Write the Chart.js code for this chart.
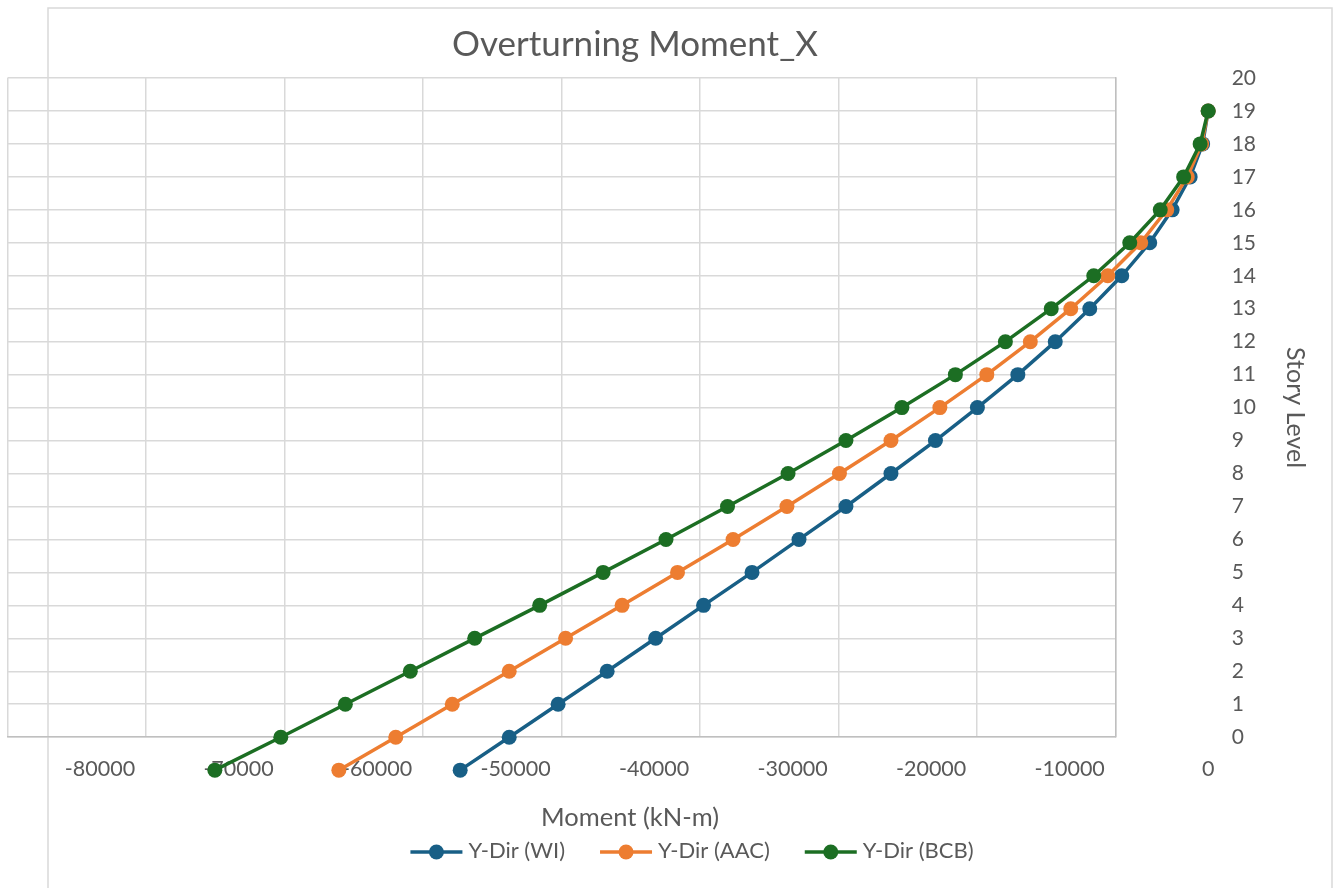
<!DOCTYPE html>
<html>
<head>
<meta charset="utf-8">
<title>Overturning Moment_X</title>
<script src="https://cdn.jsdelivr.net/npm/chart.js"></script>
<style>
  html, body { margin: 0; padding: 0; background: #ffffff; }
  #wrap { width: 1338px; height: 888px; }
</style>
</head>
<body>
<div id="wrap"><canvas id="myChart" width="1338" height="888"></canvas></div>
<script>
// story levels as they sit against the right-hand axis
const storyLevels = [-1, 0, 1, 2, 3, 4, 5, 6, 7, 8, 9, 10, 11, 12, 13, 14, 15, 16, 17, 18, 19];

// overturning moment (kN-m), bottom to top
const momentWI = [-54000, -50460, -46930, -43390, -39890, -36430, -32930, -29540, -26150, -22900,
  -19690, -16660, -13740, -11040, -8550, -6240, -4220, -2600, -1300, -400, 0];
const momentAAC = [-62760, -58650, -54570, -50460, -46390, -42310, -38310, -34300, -30410, -26620,
  -22900, -19370, -15980, -12840, -9920, -7250, -4870, -2990, -1510, -470, 0];
const momentBCB = [-71710, -66950, -62290, -57600, -52950, -48260, -43680, -39140, -34700, -30330,
  -26150, -22110, -18250, -14640, -11330, -8260, -5660, -3460, -1770, -580, 0];

const seriesNames = ['Y-Dir (WI)', 'Y-Dir (AAC)', 'Y-Dir (BCB)'];
const xTickValues = [-80000, -70000, -60000, -50000, -40000, -30000, -20000, -10000, 0];
const yTickValues = [0, 1, 2, 3, 4, 5, 6, 7, 8, 9, 10, 11, 12, 13, 14, 15, 16, 17, 18, 19, 20];

const textGray = '#595959';

function toPoints(values) {
	return values.map((v, i) => ({ x: v, y: storyLevels[i] }));
}

function series(name, values, color, order) {
	return {
		label: name,
		data: toPoints(values),
		showLine: true,
		borderColor: color,
		backgroundColor: color,
		borderWidth: 3.5,
		pointRadius: 7.5,
		pointHoverRadius: 7.5,
		pointBorderWidth: 0,
		tension: 0,
		clip: false,
		order: order,
	};
}

// labels hang outside the plot box, so no extra layout padding for them
function noOverhang(scale) {
	scale.paddingLeft = 0;
	scale.paddingRight = 0;
	scale.paddingTop = 0;
	scale.paddingBottom = 0;
}

// white page plus the outer chart frame
const frame = {
	id: 'frame',
	beforeDraw(chart) {
		const { ctx, width, height } = chart;
		ctx.save();
		ctx.fillStyle = '#ffffff';
		ctx.fillRect(0, 0, width, height);
		ctx.strokeStyle = '#d9d9d9';
		ctx.lineWidth = 1.5;
		ctx.strokeRect(48, 8, 1284, height + 10);
		ctx.restore();
	},
};

// the series run past the plot box (level -1 and the 0 end), let the points show there too
const overflowMarks = {
	id: 'overflowMarks',
	beforeDatasetsDraw(chart) {
		chart._plotBox = chart.chartArea;
		chart.chartArea = { left: 0, top: 0, right: chart.width, bottom: chart.height, width: chart.width, height: chart.height };
	},
	afterDatasetsDraw(chart) {
		chart.chartArea = chart._plotBox;
	},
};

// title, x axis title and legend, placed like the excel sheet
const sheetText = {
	id: 'sheetText',
	afterDraw(chart) {
		const ctx = chart.ctx;
		ctx.save();
		ctx.fillStyle = textGray;
		ctx.textAlign = 'center';
		ctx.textBaseline = 'alphabetic';
		ctx.font = '35px Lato';
		ctx.fillText('Overturning Moment_X', 635, 56);
		ctx.font = '25.5px Lato';
		ctx.fillText('Moment (kN-m)', 630, 826);

		ctx.font = '22px Lato';
		const items = chart.data.datasets.map(ds => ({
			label: ds.label,
			color: ds.borderColor,
			w: ctx.measureText(ds.label).width,
		}));
		const marker = 52, gap = 6, space = 35;
		const total = items.reduce((s, it) => s + marker + gap + it.w, 0) + space * (items.length - 1);
		let x = 692 - total / 2;
		const y = 852;
		items.forEach(it => {
			ctx.strokeStyle = it.color;
			ctx.lineWidth = 3.5;
			ctx.beginPath();
			ctx.moveTo(x, y);
			ctx.lineTo(x + marker, y);
			ctx.stroke();
			ctx.fillStyle = it.color;
			ctx.beginPath();
			ctx.arc(x + marker / 2, y, 7.5, 0, Math.PI * 2);
			ctx.fill();
			ctx.fillStyle = textGray;
			ctx.textAlign = 'left';
			ctx.fillText(it.label, x + marker + gap, 858);
			x += marker + gap + it.w + space;
		});
		ctx.restore();
	},
};

const ctx = document.getElementById('myChart').getContext('2d');
const myChart = new Chart(ctx, {
	type: 'scatter',
	data: {
		datasets: [
			series(seriesNames[0], momentWI, '#185f86', 3),
			series(seriesNames[1], momentAAC, '#ed7d31', 2),
			series(seriesNames[2], momentBCB, '#1c6e23', 1),
		],
	},
	options: {
		responsive: false,
		devicePixelRatio: 1,
		animation: false,
		events: [],
		layout: { padding: { left: 7, top: 78, right: 24, bottom: 106 } },
		plugins: {
			legend: { display: false },
			title: { display: false },
			tooltip: { enabled: false },
		},
		scales: {
			x: {
				type: 'linear',
				position: 'bottom',
				bounds: 'data',
				// plot box runs from -86680 to -6680, the 0 end of the series sits past it
				afterDataLimits: scale => {
					scale.min = -86680;
					scale.max = -6680;
				},
				afterBuildTicks: scale => {
					scale.ticks = xTickValues.map(v => ({ value: v }));
				},
				afterFit: noOverhang,
				grid: { display: false, drawTicks: true, tickLength: 19 },
				border: { display: true, color: '#bfbfbf', width: 1.5 },
				ticks: {
					autoSkip: false,
					maxRotation: 0,
					padding: 0,
					color: textGray,
					font: { family: 'Lato', size: 21.5 },
					callback: v => String(v),
				},
			},
			xGrid: {
				type: 'linear',
				position: 'bottom',
				min: 0,
				max: 8,
				afterFit: noOverhang,
				ticks: { display: false, stepSize: 1 },
				grid: { color: '#d9d9d9', lineWidth: 1.5, drawTicks: false },
				border: { display: false },
			},
			y: {
				type: 'linear',
				position: 'right',
				min: 0,
				max: 20,
				afterBuildTicks: scale => {
					scale.ticks = yTickValues.map(v => ({ value: v }));
				},
				afterFit: noOverhang,
				grid: {
					color: '#d9d9d9',
					lineWidth: 1.5,
					drawTicks: true,
					tickLength: 116,
					tickColor: 'rgba(0,0,0,0)',
				},
				border: { display: true, color: '#bfbfbf', width: 1.5 },
				ticks: {
					autoSkip: false,
					padding: 0,
					color: textGray,
					font: { family: 'Lato', size: 21 },
				},
				title: {
					display: true,
					text: 'Story Level',
					color: textGray,
					font: { family: 'Lato', size: 25 },
					padding: { top: 4, bottom: 24 },
				},
			},
		},
	},
	plugins: [frame, overflowMarks, sheetText],
});
</script>
</body>
</html>
